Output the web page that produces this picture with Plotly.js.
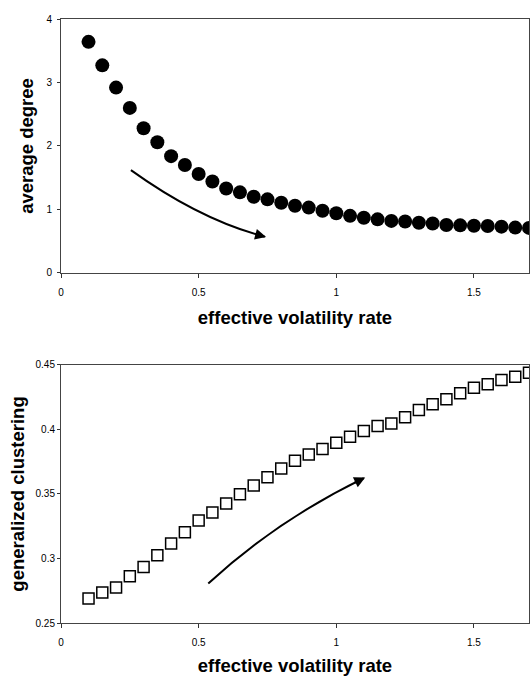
<!DOCTYPE html>
<html>
<head>
<meta charset="utf-8">
<script src="https://cdn.plot.ly/plotly-3.0.1.min.js"></script>
<style>html,body{margin:0;padding:0;background:#fff}#chart{width:531px;height:676px}</style>
</head>
<body>
<div id="chart"></div>
<script>
var volatilityRate = [0.1,0.15,0.2,0.25,0.3,0.35,0.4,0.45,0.5,0.55,0.6,0.65,0.7,0.75,0.8,0.85,0.9,0.95,1.0,1.05,1.1,1.15,1.2,1.25,1.3,1.35,1.4,1.45,1.5,1.55,1.6,1.65,1.7];
var averageDegree = [3.64,3.27,2.92,2.60,2.28,2.06,1.84,1.70,1.56,1.44,1.33,1.27,1.20,1.16,1.105,1.06,1.03,0.98,0.94,0.90,0.87,0.845,0.82,0.81,0.79,0.78,0.755,0.75,0.745,0.74,0.73,0.715,0.71];
var generalizedClustering = [0.269,0.2736,0.2775,0.2862,0.2935,0.3025,0.3116,0.3204,0.3295,0.3357,0.3427,0.3497,0.3566,0.3630,0.3698,0.3757,0.3807,0.3848,0.3897,0.3944,0.3988,0.4027,0.4047,0.4094,0.4151,0.4195,0.4234,0.4280,0.4324,0.4350,0.4384,0.4409,0.4440];
var xTickVals = [0,0.5,1,1.5];
var degreeTickVals = [0,1,2,3,4];
var clusteringTickVals = [0.25,0.3,0.35,0.4,0.45];
var clusteringTickText = ['0.25','0.3','0.35','0.4','0.45'];

var FONT = 'Liberation Sans, Arial, sans-serif';
var traces = [
  {x: volatilityRate, y: averageDegree, xaxis:'x', yaxis:'y', mode:'markers', type:'scatter',
   marker:{symbol:'circle', size:14, color:'#000', line:{width:0}}},
  {x: volatilityRate, y: generalizedClustering, xaxis:'x2', yaxis:'y2', mode:'markers', type:'scatter',
   marker:{symbol:'square', size:11, color:'#fff', line:{width:1.5, color:'#000'}}}
];

function xax(anchor, standoff){
  return {domain:[0,1], anchor:anchor, range:[0,1.7], tickvals:xTickVals, ticks:'outside', ticklen:4,
    tickcolor:'#333', ticklabelstandoff:6, showgrid:false, zeroline:false, showline:true, linecolor:'#444',
    linewidth:1, mirror:true, tickfont:{family:FONT, size:10, color:'#000'},
    title:{text:'effective volatility rate', font:{family:FONT, size:18.5, color:'#000', weight:'bold'}, standoff:standoff}};
}
var layout = {
  width:531, height:676, margin:{l:61, r:2, t:19, b:53},
  paper_bgcolor:'#fff', plot_bgcolor:'#fff', showlegend:false,
  xaxis: xax('y', 14),
  xaxis2: xax('y2', 16),
  yaxis: {domain:[0.5795,1], anchor:'x', range:[0,4], tickvals:degreeTickVals, ticks:'outside', ticklen:3,
    tickcolor:'#333', ticklabelstandoff:3, showgrid:false, zeroline:false, showline:true, linecolor:'#444', linewidth:1, mirror:true,
    tickfont:{family:FONT, size:10, color:'#000'},
    title:{text:'average degree', font:{family:FONT, size:18.5, color:'#000', weight:'bold'}, standoff:7}},
  yaxis2: {domain:[0,0.4272], anchor:'x2', range:[0.25,0.45], tickvals:clusteringTickVals, ticktext:clusteringTickText,
    ticks:'outside', ticklen:3, tickcolor:'#333', showgrid:false, zeroline:false, showline:true, linecolor:'#444',
    linewidth:1, mirror:true, tickfont:{family:FONT, size:10, color:'#000'},
    title:{text:'generalized clustering', font:{family:FONT, size:18.5, color:'#000', weight:'bold'}, standoff:6}},
  shapes: [
    {type:'path', xref:'x', yref:'y', path:'M 0.254,1.62 Q 0.506,0.835 0.74,0.572', line:{color:'#000', width:2}},
    {type:'path', xref:'x2', yref:'y2', path:'M 0.535,0.2806 Q 0.78,0.329 1.10,0.3623', line:{color:'#000', width:2}}
  ],
  annotations: [
    {xref:'x', yref:'y', axref:'x', ayref:'y', x:0.745, y:0.566, ax:0.70, ay:0.618, text:'', showarrow:true,
     arrowhead:2, arrowsize:1.1, arrowwidth:2, arrowcolor:'#000'},
    {xref:'x2', yref:'y2', axref:'x2', ayref:'y2', x:1.105, y:0.3628, ax:1.06, ay:0.3581, text:'', showarrow:true,
     arrowhead:2, arrowsize:1.1, arrowwidth:2, arrowcolor:'#000'}
  ]
};
Plotly.newPlot('chart', traces, layout, {displayModeBar:false, staticPlot:true});
</script>
</body>
</html>
